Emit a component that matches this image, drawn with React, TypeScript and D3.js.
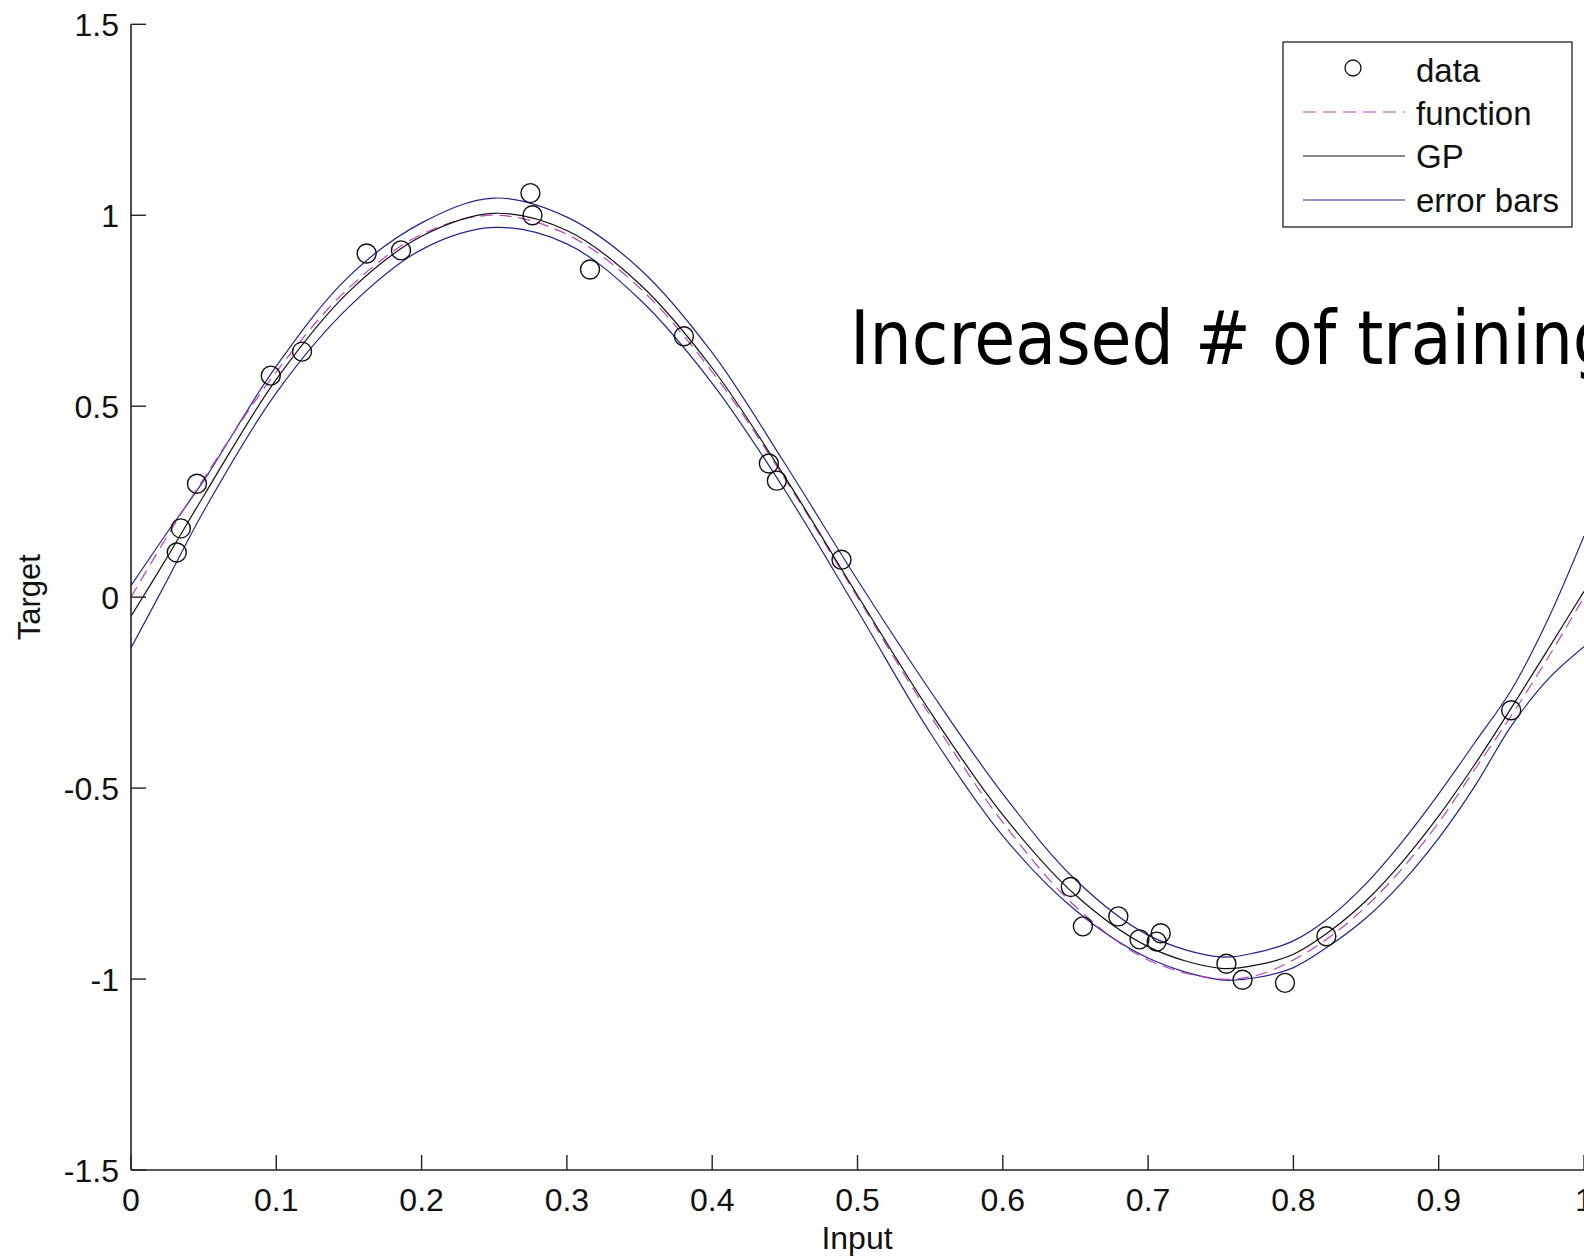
import React from "react";
import * as d3 from "d3";

// Training samples (input, target)
const dataX = [0.0315, 0.0343, 0.0454, 0.0962, 0.1177, 0.1622, 0.1858, 0.2749, 0.2763, 0.3159, 0.3805, 0.439, 0.4445, 0.489, 0.6468, 0.6551, 0.6795, 0.6941, 0.7059, 0.7087, 0.7539, 0.765, 0.7942, 0.8227, 0.9499];
const dataY = [0.117, 0.18, 0.297, 0.58, 0.643, 0.9, 0.908, 1.058, 1.0, 0.858, 0.683, 0.35, 0.305, 0.098, -0.759, -0.862, -0.836, -0.896, -0.902, -0.88, -0.96, -1.002, -1.01, -0.888, -0.296];

// Curve sample grid (denser near the ends, where the band changes quickly)
const gridX = [0, 0.025, 0.05, 0.1, 0.15, 0.2, 0.25, 0.3, 0.35, 0.4, 0.45, 0.5, 0.55, 0.6, 0.65, 0.7, 0.75, 0.775, 0.8, 0.825, 0.85, 0.875, 0.9, 0.925, 0.95, 0.975, 1.0];
const functionY = [0.0, 0.16, 0.31, 0.59, 0.81, 0.95, 1.0, 0.95, 0.81, 0.59, 0.31, 0.0, -0.31, -0.59, -0.81, -0.95, -1.0, -0.99, -0.95, -0.89, -0.81, -0.71, -0.59, -0.45, -0.31, -0.16, 0.0];
const gpMean = [-0.05, 0.105, 0.265, 0.57, 0.8, 0.945, 1.005, 0.96, 0.82, 0.6, 0.315, 0.005, -0.3, -0.57, -0.78, -0.915, -0.972, -0.963, -0.935, -0.875, -0.795, -0.693, -0.573, -0.437, -0.29, -0.138, 0.015];
const gpUpper = [0.03, 0.17, 0.305, 0.605, 0.84, 0.98, 1.045, 0.995, 0.86, 0.64, 0.35, 0.045, -0.245, -0.515, -0.74, -0.885, -0.942, -0.93, -0.9, -0.838, -0.75, -0.64, -0.515, -0.38, -0.243, -0.06, 0.16];
const gpLower = [-0.133, 0.045, 0.225, 0.535, 0.76, 0.91, 0.968, 0.925, 0.78, 0.56, 0.28, -0.035, -0.355, -0.625, -0.82, -0.945, -1.002, -0.996, -0.97, -0.912, -0.84, -0.746, -0.631, -0.494, -0.337, -0.216, -0.13];

const xTicks = [0, 0.1, 0.2, 0.3, 0.4, 0.5, 0.6, 0.7, 0.8, 0.9, 1];
const xTickLabels = ["0", "0.1", "0.2", "0.3", "0.4", "0.5", "0.6", "0.7", "0.8", "0.9", "1"];
const yTicks = [-1.5, -1, -0.5, 0, 0.5, 1, 1.5];
const yTickLabels = ["-1.5", "-1", "-0.5", "0", "0.5", "1", "1.5"];

const legendLabels = ["data", "function", "GP", "error bars"];

const W = 1584;
const H = 1258;
const FONT = "'Liberation Sans', Arial, sans-serif";

const COLOR_FUNC = "#b844b8";
const COLOR_GP = "#111111";
const COLOR_ERR = "#24248f";

export default function App() {
  const x = d3.scaleLinear().domain([0, 1]).range([131, 1584]);
  const y = d3.scaleLinear().domain([-1.5, 1.5]).range([1170, 24.3]);

  const line = (ys: number[]) =>
    d3
      .line<number>()
      .x((_, i) => x(gridX[i]))
      .y((d) => y(d))
      .curve(d3.curveCatmullRom.alpha(0.5))(ys) || "";

  const legendTop = 42;
  const legendRowBase = [82, 124.5, 168, 212];
  const legendLineY = [68, 112, 156, 200];

  return (
    <svg
      width={W}
      height={H}
      style={{ position: "absolute", left: 0, top: 0, background: "#fff" }}
    >
      <rect x={0} y={0} width={W} height={H} fill="#fff" />

      {/* error band, mean and true function */}
      <path d={line(gpUpper)} fill="none" stroke={COLOR_ERR} strokeWidth={1.2} />
      <path d={line(gpLower)} fill="none" stroke={COLOR_ERR} strokeWidth={1.2} />
      <path d={line(functionY)} fill="none" stroke={COLOR_FUNC} strokeWidth={1.2} strokeDasharray="12,7" />
      <path d={line(gpMean)} fill="none" stroke={COLOR_GP} strokeWidth={1.2} />

      {/* samples */}
      {dataX.map((dx, i) => (
        <circle key={i} cx={x(dx)} cy={y(dataY[i])} r={9.5} fill="none" stroke="#111" strokeWidth={1.4} />
      ))}

      {/* axes */}
      <line x1={x(0)} y1={y(-1.5)} x2={W} y2={y(-1.5)} stroke="#222" strokeWidth={1.6} />
      <line x1={x(0)} y1={y(-1.5)} x2={x(0)} y2={y(1.5)} stroke="#222" strokeWidth={1.6} />

      {xTicks.map((t, i) => (
        <g key={"xt" + i}>
          <line x1={x(t)} x2={x(t)} y1={y(-1.5)} y2={y(-1.5) - 15} stroke="#222" strokeWidth={1.4} />
          <text x={x(t)} y={1211} fontFamily={FONT} fontSize={32} textAnchor="middle" fill="#111">
            {xTickLabels[i]}
          </text>
        </g>
      ))}
      {yTicks.map((t, i) => (
        <g key={"yt" + i}>
          <line x1={x(0)} x2={x(0) + 15} y1={y(t)} y2={y(t)} stroke="#222" strokeWidth={1.4} />
          <text x={119} y={y(t) + 11.5} fontFamily={FONT} fontSize={32} textAnchor="end" fill="#111">
            {yTickLabels[i]}
          </text>
        </g>
      ))}

      <text x={857} y={1249} fontFamily={FONT} fontSize={32} textAnchor="middle" fill="#111">
        Input
      </text>
      <text
        transform={`translate(40,${y(0)}) rotate(-90)`}
        fontFamily={FONT}
        fontSize={31}
        textAnchor="middle"
        fill="#111"
      >
        Target
      </text>

      {/* legend */}
      <rect x={1283} y={legendTop} width={289} height={185} fill="#fff" stroke="#222" strokeWidth={1.3} />
      <circle cx={1353} cy={legendLineY[0]} r={8} fill="none" stroke="#111" strokeWidth={1.3} />
      <line x1={1303} x2={1405} y1={legendLineY[1]} y2={legendLineY[1]} stroke={COLOR_FUNC} strokeWidth={1.2} strokeDasharray="13,7" />
      <line x1={1303} x2={1405} y1={legendLineY[2]} y2={legendLineY[2]} stroke={COLOR_GP} strokeWidth={1.2} />
      <line x1={1303} x2={1405} y1={legendLineY[3]} y2={legendLineY[3]} stroke={COLOR_ERR} strokeWidth={1.2} />
      {legendLabels.map((l, i) => (
        <text key={l} x={1416} y={legendRowBase[i]} fontFamily={FONT} fontSize={33} fill="#111">
          {l}
        </text>
      ))}

      {/* annotation */}
      <text
        x={850}
        y={364}
        fontFamily="'DejaVu Sans Condensed', 'DejaVu Sans', sans-serif"
        style={{ fontStretch: "condensed" }}
        fontSize={74}
        fill="#000"
      >
        Increased # of training
      </text>
    </svg>
  );
}
